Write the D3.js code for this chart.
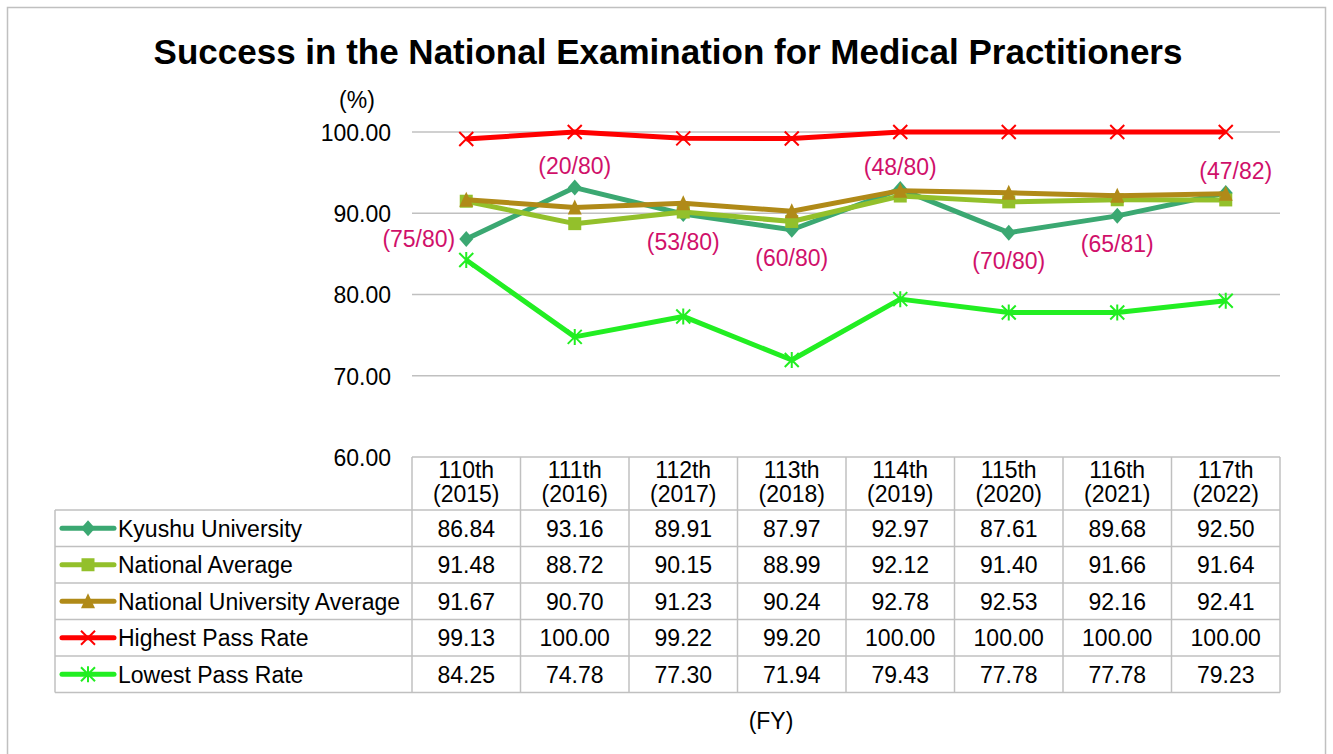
<!DOCTYPE html>
<html><head><meta charset="utf-8">
<script src="https://cdn.jsdelivr.net/npm/d3@7"></script>
<style>body{margin:0;background:#fff}svg{display:block}text{font-family:"Liberation Sans",Arial,sans-serif}</style>
</head><body><svg id="c" width="1333" height="754"></svg>
<script>
const categories = ["110th\n(2015)","111th\n(2016)","112th\n(2017)","113th\n(2018)","114th\n(2019)","115th\n(2020)","116th\n(2021)","117th\n(2022)"];
const kyushu = [86.84,93.16,89.91,87.97,92.97,87.61,89.68,92.50];
const nationalAvg = [91.48,88.72,90.15,88.99,92.12,91.40,91.66,91.64];
const nationalUnivAvg = [91.67,90.70,91.23,90.24,92.78,92.53,92.16,92.41];
const highest = [99.13,100.00,99.22,99.20,100.00,100.00,100.00,100.00];
const lowest = [84.25,74.78,77.30,71.94,79.43,77.78,77.78,79.23];
const passCounts = ["(75/80)","(20/80)","(53/80)","(60/80)","(48/80)","(70/80)","(65/81)","(47/82)"];
const yTicks = [60,70,80,90,100];
const seriesNames = ["Kyushu University","National Average","National University Average","Highest Pass Rate","Lowest Pass Rate"];

const series = [
  {name:seriesNames[0], values:kyushu, color:"#3BA872", marker:"diamond"},
  {name:seriesNames[1], values:nationalAvg, color:"#93C02B", marker:"square"},
  {name:seriesNames[2], values:nationalUnivAvg, color:"#B08A18", marker:"triangle"},
  {name:seriesNames[3], values:highest, color:"#FF0000", marker:"x"},
  {name:seriesNames[4], values:lowest, color:"#22EE22", marker:"star"}
];
const labelPos = ["left","above","below","below","above","below","below","above"];

const svg = d3.select("#c");
svg.append("rect").attr("x",7.5).attr("y",7.5).attr("width",1318).attr("height",760).attr("fill","#fff").attr("stroke","#c0c0c0").attr("stroke-width",1.5);

const x = d3.scaleBand().domain(d3.range(categories.length)).range([412,1280]);
const y = d3.scaleLinear().domain([60,100]).range([457,132]);
const fs = 23;

svg.append("text").attr("x",668).attr("y",64).attr("text-anchor","middle").attr("font-size",35).attr("font-weight","bold").attr("fill","#000")
  .text("Success in the National Examination for Medical Practitioners");

svg.append("g").selectAll("line").data(yTicks.filter(t=>t>60)).join("line")
  .attr("x1",412).attr("x2",1280).attr("y1",d=>y(d)).attr("y2",d=>y(d)).attr("stroke","#c0c0c0").attr("stroke-width",1.5);

const yAxis = d3.axisLeft(y).tickValues(yTicks).tickFormat(d3.format(".2f")).tickSize(0).tickPadding(21);
const ya = svg.append("g").attr("transform","translate(412,0)").call(yAxis);
ya.select(".domain").remove();
ya.selectAll("text").attr("font-size",fs).attr("fill","#000").attr("font-family","Liberation Sans, Arial, sans-serif").attr("dy","0.36em");
svg.append("text").attr("x",357).attr("y",108).attr("text-anchor","middle").attr("font-size",fs).text("(%)");

const rowTop = 510, rowH = 36.5, tableLeft = 55;
const tg = svg.append("g");
const gridC = "#c0c0c0";
tg.append("line").attr("x1",412).attr("x2",1280).attr("y1",457).attr("y2",457).attr("stroke",gridC).attr("stroke-width",1.5);
for(let i=0;i<=series.length;i++){
  tg.append("line").attr("x1",tableLeft).attr("x2",1280).attr("y1",rowTop+i*rowH).attr("y2",rowTop+i*rowH).attr("stroke",gridC).attr("stroke-width",1.5);
}
const xs = d3.range(categories.length+1).map(i=> i<categories.length ? x(i) : x(categories.length-1)+x.bandwidth());
xs.forEach(v=>tg.append("line").attr("x1",v).attr("x2",v).attr("y1",457).attr("y2",rowTop+series.length*rowH).attr("stroke",gridC).attr("stroke-width",1.5));
tg.append("line").attr("x1",tableLeft).attr("x2",tableLeft).attr("y1",rowTop).attr("y2",rowTop+series.length*rowH).attr("stroke",gridC).attr("stroke-width",1.5);

categories.forEach((c,i)=>{
  const t = tg.append("text").attr("text-anchor","middle").attr("font-size",fs);
  c.split("\n").forEach((l,j)=>t.append("tspan").attr("x",x(i)+x.bandwidth()/2).attr("y",478+j*24).text(l));
});

function drawMarker(g,type,cx,cy,color,size){
  const h=size/2;
  if(type==="x"){
    g.append("path").attr("d",`M${cx-h},${cy-h}L${cx+h},${cy+h}M${cx-h},${cy+h}L${cx+h},${cy-h}`).attr("stroke",color).attr("stroke-width",2).attr("fill","none");
  } else if(type==="star"){
    g.append("path").attr("d",`M${cx-h},${cy-h}L${cx+h},${cy+h}M${cx-h},${cy+h}L${cx+h},${cy-h}M${cx},${cy-h-1}L${cx},${cy+h+1}`).attr("stroke",color).attr("stroke-width",2).attr("fill","none");
  } else if(type==="diamond"){
    g.append("path").attr("d",`M${cx},${cy-h-1}L${cx+h},${cy}L${cx},${cy+h+1}L${cx-h},${cy}Z`).attr("fill",color);
  } else if(type==="square"){
    g.append("rect").attr("x",cx-h+0.5).attr("y",cy-h+0.5).attr("width",size-1).attr("height",size-1).attr("fill",color);
  } else if(type==="triangle"){
    g.append("path").attr("d",`M${cx},${cy-h-1}L${cx+h},${cy+h}L${cx-h},${cy+h}Z`).attr("fill",color);
  }
}

series.forEach((s,r)=>{
  const cy = rowTop + r*rowH + rowH/2;
  tg.append("line").attr("x1",62).attr("x2",114).attr("y1",cy).attr("y2",cy).attr("stroke",s.color).attr("stroke-width",5).attr("stroke-linecap","round");
  drawMarker(tg,s.marker,88,cy,s.color,14);
  tg.append("text").attr("x",118).attr("y",cy).attr("dy","0.36em").attr("font-size",fs).text(s.name);
  s.values.forEach((v,i)=>{
    tg.append("text").attr("x",x(i)+x.bandwidth()/2).attr("y",cy).attr("dy","0.36em").attr("text-anchor","middle").attr("font-size",fs).text(d3.format(".2f")(v));
  });
});

const line = d3.line().x((d,i)=>x(i)+x.bandwidth()/2).y(d=>y(d));
const order = [4,3,0,1,2];
order.forEach(k=>{
  const s=series[k];
  const g=svg.append("g");
  g.append("path").datum(s.values).attr("d",line).attr("fill","none").attr("stroke",s.color).attr("stroke-width",5).attr("stroke-linejoin","round");
  s.values.forEach((v,i)=>drawMarker(g,s.marker,x(i)+x.bandwidth()/2,y(v),s.color,14));
});

passCounts.forEach((p,i)=>{
  const cx=x(i)+x.bandwidth()/2, cy=y(kyushu[i]);
  const t=svg.append("text").attr("font-size",fs).attr("fill","#D0106A").text(p);
  if(labelPos[i]==="left") t.attr("x",cx-11).attr("y",cy+8).attr("text-anchor","end");
  else if(labelPos[i]==="above") t.attr("x",cx + (i===passCounts.length-1 ? 10 : 0)).attr("y",cy-14).attr("text-anchor","middle");
  else t.attr("x",cx).attr("y",cy+36).attr("text-anchor","middle");
});

svg.append("text").attr("x",771).attr("y",729).attr("text-anchor","middle").attr("font-size",fs).text("(FY)");
</script></body></html>
